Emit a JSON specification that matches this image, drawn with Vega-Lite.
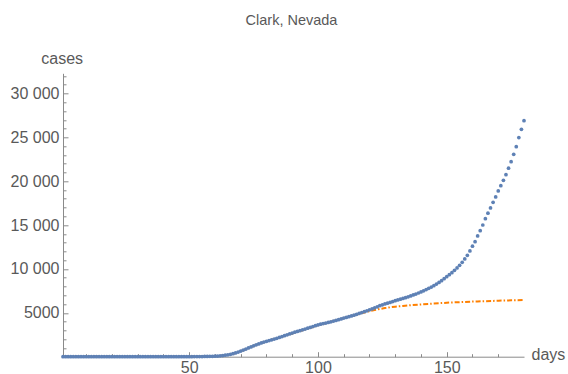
{
  "$schema": "https://vega.github.io/schema/vega-lite/v6.json",
  "width": 461,
  "height": 283.4,
  "autosize": {"type": "none"},
  "padding": {"left": 63, "top": 73.3, "right": 44, "bottom": 17.3},
  "config": {
    "view": {"stroke": null},
    "font": "Liberation Sans"
  },
  "title": {
    "text": "Clark, Nevada",
    "frame": "group",
    "anchor": "middle",
    "offset": 11,
    "baseline": "alphabetic",
    "dx": -2,
    "fontSize": 14.5,
    "fontWeight": "normal",
    "color": "#595959",
    "font": "Liberation Sans"
  },
  "datasets": {
    "observed": [
      {"day": 1, "cases": 0}, {"day": 2, "cases": 0}, {"day": 3, "cases": 0}, {"day": 4, "cases": 0}, {"day": 5, "cases": 0},
      {"day": 6, "cases": 0}, {"day": 7, "cases": 0}, {"day": 8, "cases": 0}, {"day": 9, "cases": 0}, {"day": 10, "cases": 0},
      {"day": 11, "cases": 0}, {"day": 12, "cases": 0}, {"day": 13, "cases": 0}, {"day": 14, "cases": 0}, {"day": 15, "cases": 0},
      {"day": 16, "cases": 0}, {"day": 17, "cases": 0}, {"day": 18, "cases": 0}, {"day": 19, "cases": 0}, {"day": 20, "cases": 0},
      {"day": 21, "cases": 0}, {"day": 22, "cases": 0}, {"day": 23, "cases": 0}, {"day": 24, "cases": 0}, {"day": 25, "cases": 0},
      {"day": 26, "cases": 0}, {"day": 27, "cases": 0}, {"day": 28, "cases": 0}, {"day": 29, "cases": 0}, {"day": 30, "cases": 0},
      {"day": 31, "cases": 0}, {"day": 32, "cases": 0}, {"day": 33, "cases": 0}, {"day": 34, "cases": 0}, {"day": 35, "cases": 0},
      {"day": 36, "cases": 0}, {"day": 37, "cases": 0}, {"day": 38, "cases": 0}, {"day": 39, "cases": 0}, {"day": 40, "cases": 0},
      {"day": 41, "cases": 0}, {"day": 42, "cases": 0}, {"day": 43, "cases": 0}, {"day": 44, "cases": 1}, {"day": 45, "cases": 1},
      {"day": 46, "cases": 1}, {"day": 47, "cases": 2}, {"day": 48, "cases": 3}, {"day": 49, "cases": 4}, {"day": 50, "cases": 5},
      {"day": 51, "cases": 7}, {"day": 52, "cases": 9}, {"day": 53, "cases": 12}, {"day": 54, "cases": 15}, {"day": 55, "cases": 19},
      {"day": 56, "cases": 24}, {"day": 57, "cases": 30}, {"day": 58, "cases": 38}, {"day": 59, "cases": 48}, {"day": 60, "cases": 60},
      {"day": 61, "cases": 78}, {"day": 62, "cases": 100}, {"day": 63, "cases": 130}, {"day": 64, "cases": 168}, {"day": 65, "cases": 215},
      {"day": 66, "cases": 275}, {"day": 67, "cases": 345}, {"day": 68, "cases": 430}, {"day": 69, "cases": 530}, {"day": 70, "cases": 640},
      {"day": 71, "cases": 755}, {"day": 72, "cases": 875}, {"day": 73, "cases": 995}, {"day": 74, "cases": 1115}, {"day": 75, "cases": 1235},
      {"day": 76, "cases": 1350}, {"day": 77, "cases": 1460}, {"day": 78, "cases": 1565}, {"day": 79, "cases": 1665}, {"day": 80, "cases": 1760},
      {"day": 81, "cases": 1845}, {"day": 82, "cases": 1930}, {"day": 83, "cases": 2015}, {"day": 84, "cases": 2100}, {"day": 85, "cases": 2190},
      {"day": 86, "cases": 2290}, {"day": 87, "cases": 2390}, {"day": 88, "cases": 2490}, {"day": 89, "cases": 2595}, {"day": 90, "cases": 2700},
      {"day": 91, "cases": 2790}, {"day": 92, "cases": 2880}, {"day": 93, "cases": 2970}, {"day": 94, "cases": 3060}, {"day": 95, "cases": 3150},
      {"day": 96, "cases": 3245}, {"day": 97, "cases": 3340}, {"day": 98, "cases": 3435}, {"day": 99, "cases": 3530}, {"day": 100, "cases": 3620},
      {"day": 101, "cases": 3700}, {"day": 102, "cases": 3770}, {"day": 103, "cases": 3840}, {"day": 104, "cases": 3910}, {"day": 105, "cases": 3980},
      {"day": 106, "cases": 4060}, {"day": 107, "cases": 4140}, {"day": 108, "cases": 4220}, {"day": 109, "cases": 4310}, {"day": 110, "cases": 4400},
      {"day": 111, "cases": 4480}, {"day": 112, "cases": 4560}, {"day": 113, "cases": 4640}, {"day": 114, "cases": 4730}, {"day": 115, "cases": 4830},
      {"day": 116, "cases": 4930}, {"day": 117, "cases": 5030}, {"day": 118, "cases": 5130}, {"day": 119, "cases": 5235}, {"day": 120, "cases": 5340},
      {"day": 121, "cases": 5450}, {"day": 122, "cases": 5570}, {"day": 123, "cases": 5690}, {"day": 124, "cases": 5810}, {"day": 125, "cases": 5920},
      {"day": 126, "cases": 6010}, {"day": 127, "cases": 6100}, {"day": 128, "cases": 6190}, {"day": 129, "cases": 6285}, {"day": 130, "cases": 6380},
      {"day": 131, "cases": 6465}, {"day": 132, "cases": 6550}, {"day": 133, "cases": 6640}, {"day": 134, "cases": 6730}, {"day": 135, "cases": 6820},
      {"day": 136, "cases": 6925}, {"day": 137, "cases": 7035}, {"day": 138, "cases": 7145}, {"day": 139, "cases": 7260}, {"day": 140, "cases": 7380},
      {"day": 141, "cases": 7510}, {"day": 142, "cases": 7645}, {"day": 143, "cases": 7790}, {"day": 144, "cases": 7940}, {"day": 145, "cases": 8100},
      {"day": 146, "cases": 8280}, {"day": 147, "cases": 8470}, {"day": 148, "cases": 8670}, {"day": 149, "cases": 8890}, {"day": 150, "cases": 9120},
      {"day": 151, "cases": 9350}, {"day": 152, "cases": 9580}, {"day": 153, "cases": 9850}, {"day": 154, "cases": 10110}, {"day": 155, "cases": 10420},
      {"day": 156, "cases": 10760}, {"day": 157, "cases": 11140}, {"day": 158, "cases": 11560}, {"day": 159, "cases": 12050}, {"day": 160, "cases": 12590},
      {"day": 161, "cases": 13110}, {"day": 162, "cases": 13760}, {"day": 163, "cases": 14360}, {"day": 164, "cases": 15010}, {"day": 165, "cases": 15730},
      {"day": 166, "cases": 16350}, {"day": 167, "cases": 16950}, {"day": 168, "cases": 17600}, {"day": 169, "cases": 18210}, {"day": 170, "cases": 18890},
      {"day": 171, "cases": 19490}, {"day": 172, "cases": 20110}, {"day": 173, "cases": 20750}, {"day": 174, "cases": 21480}, {"day": 175, "cases": 22230},
      {"day": 176, "cases": 23070}, {"day": 177, "cases": 23940}, {"day": 178, "cases": 24970}, {"day": 179, "cases": 25920}, {"day": 180, "cases": 26900}
    ],
    "fitted": [
      {"day": 1, "fit": 0}, {"day": 20, "fit": 1}, {"day": 40, "fit": 3}, {"day": 50, "fit": 10}, {"day": 55, "fit": 20},
      {"day": 58, "fit": 35}, {"day": 60, "fit": 55}, {"day": 62, "fit": 95}, {"day": 64, "fit": 160}, {"day": 66, "fit": 265},
      {"day": 68, "fit": 420}, {"day": 70, "fit": 630}, {"day": 72, "fit": 865}, {"day": 74, "fit": 1105}, {"day": 76, "fit": 1340},
      {"day": 78, "fit": 1555}, {"day": 80, "fit": 1750}, {"day": 82, "fit": 1930}, {"day": 84, "fit": 2100}, {"day": 86, "fit": 2280},
      {"day": 88, "fit": 2460}, {"day": 90, "fit": 2650}, {"day": 92, "fit": 2840}, {"day": 94, "fit": 3020}, {"day": 96, "fit": 3200},
      {"day": 98, "fit": 3390}, {"day": 100, "fit": 3580}, {"day": 102, "fit": 3740}, {"day": 104, "fit": 3900}, {"day": 106, "fit": 4060},
      {"day": 108, "fit": 4230}, {"day": 110, "fit": 4400}, {"day": 112, "fit": 4560}, {"day": 114, "fit": 4720}, {"day": 116, "fit": 4880},
      {"day": 118, "fit": 5040}, {"day": 120, "fit": 5190}, {"day": 122, "fit": 5320}, {"day": 124, "fit": 5440}, {"day": 126, "fit": 5540},
      {"day": 128, "fit": 5625}, {"day": 130, "fit": 5700}, {"day": 133, "fit": 5790}, {"day": 136, "fit": 5870}, {"day": 140, "fit": 5960},
      {"day": 145, "fit": 6060}, {"day": 150, "fit": 6150}, {"day": 155, "fit": 6220}, {"day": 160, "fit": 6280}, {"day": 165, "fit": 6330},
      {"day": 170, "fit": 6380}, {"day": 175, "fit": 6420}, {"day": 180, "fit": 6460}
    ]
  },
  "resolve": {"axis": {"x": "independent", "y": "independent"}},
  "layer": [
    {
      "data": {"name": "fitted"},
      "mark": {"type": "line", "color": "#FF8000", "strokeWidth": 2, "strokeDash": [5, 2, 1.5, 2], "interpolate": "monotone", "clip": true},
      "encoding": {
        "x": {
          "field": "day", "type": "quantitative",
          "scale": {"domain": [1, 180], "nice": false, "zero": false},
          "axis": {
            "orient": "bottom", "values": [50, 100, 150], "grid": false,
            "tickSize": -5, "labelPadding": 8, "labelFontSize": 16, "labelColor": "#595959",
            "labelFlush": false, "labelOverlap": false,
            "domainColor": "#8a8a8a", "tickColor": "#8a8a8a", "domainWidth": 1, "tickWidth": 1,
            "title": "days", "titleAngle": 0, "titleAlign": "left", "titleBaseline": "alphabetic",
            "titleX": 468, "titleY": 2.6, "titleFontSize": 16, "titleFontWeight": "normal", "titleColor": "#595959"
          }
        },
        "y": {
          "field": "fit", "type": "quantitative",
          "scale": {"domain": [0, 32300], "nice": false, "zero": true},
          "axis": {
            "orient": "left", "values": [5000, 10000, 15000, 20000, 25000, 30000], "grid": false,
            "tickSize": -5, "labelPadding": 9, "labelFontSize": 16, "labelColor": "#595959",
            "labelFlush": false, "labelOverlap": false, "labelBaseline": "middle",
            "labelExpr": "datum.value >= 10000 ? replace(format(datum.value, ','), ',', ' ') : format(datum.value, 'd')",
            "domainColor": "#8a8a8a", "tickColor": "#8a8a8a", "domainWidth": 1, "tickWidth": 1,
            "title": "cases", "titleAngle": 0, "titleAlign": "center", "titleBaseline": "alphabetic",
            "titleX": -1.3, "titleY": -10.3, "titleFontSize": 16, "titleFontWeight": "normal", "titleColor": "#595959"
          }
        }
      }
    },
    {
      "data": {"name": "observed"},
      "mark": {"type": "point", "filled": true, "size": 14, "opacity": 1, "color": "#5E81B5"},
      "encoding": {
        "x": {
          "field": "day", "type": "quantitative",
          "scale": {"domain": [1, 180], "nice": false, "zero": false},
          "axis": {
            "orient": "bottom", "values": [10, 20, 30, 40, 60, 70, 80, 90, 110, 120, 130, 140, 160, 170],
            "tickSize": -3, "labels": false, "domain": false, "grid": false, "title": null,
            "tickColor": "#8a8a8a", "tickWidth": 1
          }
        },
        "y": {
          "field": "cases", "type": "quantitative",
          "scale": {"domain": [0, 32300], "nice": false, "zero": true},
          "axis": {
            "orient": "left",
            "values": [1000, 2000, 3000, 4000, 6000, 7000, 8000, 9000, 11000, 12000, 13000, 14000, 16000, 17000, 18000, 19000, 21000, 22000, 23000, 24000, 26000, 27000, 28000, 29000, 31000, 32000],
            "tickSize": -3, "labels": false, "domain": false, "grid": false, "title": null,
            "tickColor": "#8a8a8a", "tickWidth": 1
          }
        }
      }
    }
  ]
}
